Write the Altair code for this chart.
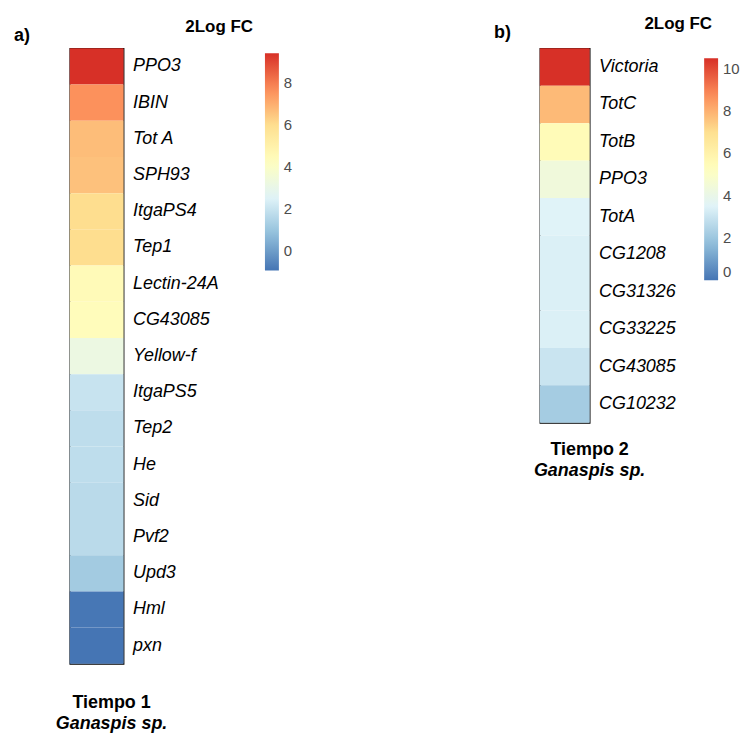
import altair as alt
import pandas as pd

# ---- data ----
genes_a = ["PPO3", "IBIN", "Tot A", "SPH93", "ItgaPS4", "Tep1", "Lectin-24A",
           "CG43085", "Yellow-f", "ItgaPS5", "Tep2", "He", "Sid", "Pvf2",
           "Upd3", "Hml", "pxn"]
fc_a = [9.4, 7.6, 6.7, 6.6, 6.0, 6.0, 4.5, 4.4, 3.2, 2.0, 1.8, 1.8, 1.7, 1.7,
        1.2, -0.85, -0.9]

genes_b = ["Victoria", "TotC", "TotB", "PPO3", "TotA", "CG1208", "CG31326",
           "CG33225", "CG43085", "CG10232"]
fc_b = [10.5, 7.8, 5.5, 4.4, 3.5, 3.4, 3.4, 3.4, 3.0, 2.2]

domain_a = [-0.9, 9.4]
domain_b = [0.0, 10.5]
ticks_a = [0, 2, 4, 6, 8]
ticks_b = [0, 2, 4, 6, 8, 10]
palette = ["#4575b4", "#91bfdb", "#e0f3f8", "#ffffbf", "#fee090", "#fc8d59", "#d73027"]

FONT = "Liberation Sans"


def panel(genes, fc, domain, ticks, letter, title, w, h,
          letter_xy, legtitle_xy, leg_xy, leg_len, title_dx, title_offset):
    df = pd.DataFrame({"gene": genes, "fc": fc, "col": ["c"] * len(genes)})
    heat = alt.Chart(df).mark_rect(strokeWidth=0).encode(
        x=alt.X("col:N", axis=None,
                scale=alt.Scale(paddingInner=0, paddingOuter=0)),
        y=alt.Y("gene:N", sort=genes,
                scale=alt.Scale(paddingInner=0, paddingOuter=0),
                axis=alt.Axis(orient="right", title=None, ticks=False,
                              domain=False, labelFontSize=18,
                              labelFontStyle="italic", labelColor="black",
                              labelPadding=9, labelFont=FONT, labelLimit=300)),
        color=alt.Color(
            "fc:Q",
            scale=alt.Scale(domain=domain, range=palette, interpolate="rgb",
                            nice=False, zero=False, clamp=True),
            legend=alt.Legend(title=None, orient="none",
                              legendX=leg_xy[0], legendY=leg_xy[1],
                              direction="vertical", gradientLength=leg_len,
                              gradientThickness=14, gradientStrokeWidth=0,
                              values=ticks, labelFontSize=15,
                              labelColor="#4d4d4d", labelOffset=5,
                              labelOverlap=False, padding=0, labelFont=FONT)),
    )
    letter_t = alt.Chart(pd.DataFrame({"t": [letter]})).mark_text(
        fontSize=18, fontWeight="bold", align="left", baseline="middle",
        font=FONT, color="black",
    ).encode(text="t:N", x=alt.value(letter_xy[0]), y=alt.value(letter_xy[1]))
    legtitle_t = alt.Chart(pd.DataFrame({"t": ["2Log FC"]})).mark_text(
        fontSize=17, fontWeight="bold", align="center", baseline="middle",
        font=FONT, color="black",
    ).encode(text="t:N", x=alt.value(legtitle_xy[0]), y=alt.value(legtitle_xy[1]))

    return alt.layer(heat, letter_t, legtitle_t).properties(
        width=w, height=h,
        title=alt.TitleParams(
            text=title, subtitle="Ganaspis sp.", orient="bottom",
            anchor="middle", fontSize=18, fontWeight="bold", font=FONT,
            color="black", subtitleFont=FONT, subtitleFontSize=18,
            subtitleFontWeight="bold", subtitleFontStyle="italic",
            subtitleColor="black", subtitlePadding=3,
            offset=title_offset, dx=title_dx),
    )


pa = panel(genes_a, fc_a, domain_a, ticks_a, "a)", "Tiempo 1", 54, 618,
           (-56, -12), (150, -21), (196, 5), 218, 15, 30)
pb = panel(genes_b, fc_b, domain_b, ticks_b, "b)", "Tiempo 2", 50, 376,
           (-46, -15), (139, -24), (165, 10), 223, 25, 18)

chart = alt.hconcat(pa, pb, spacing=200).resolve_scale(
    color="independent", y="independent"
).resolve_legend(color="independent").properties(
    padding={"left": 5, "top": 5, "right": 0, "bottom": 0}
).configure_view(stroke="black", strokeWidth=1.2)

chart.save("out.html", embed_options={"renderer": "svg", "actions": False})
